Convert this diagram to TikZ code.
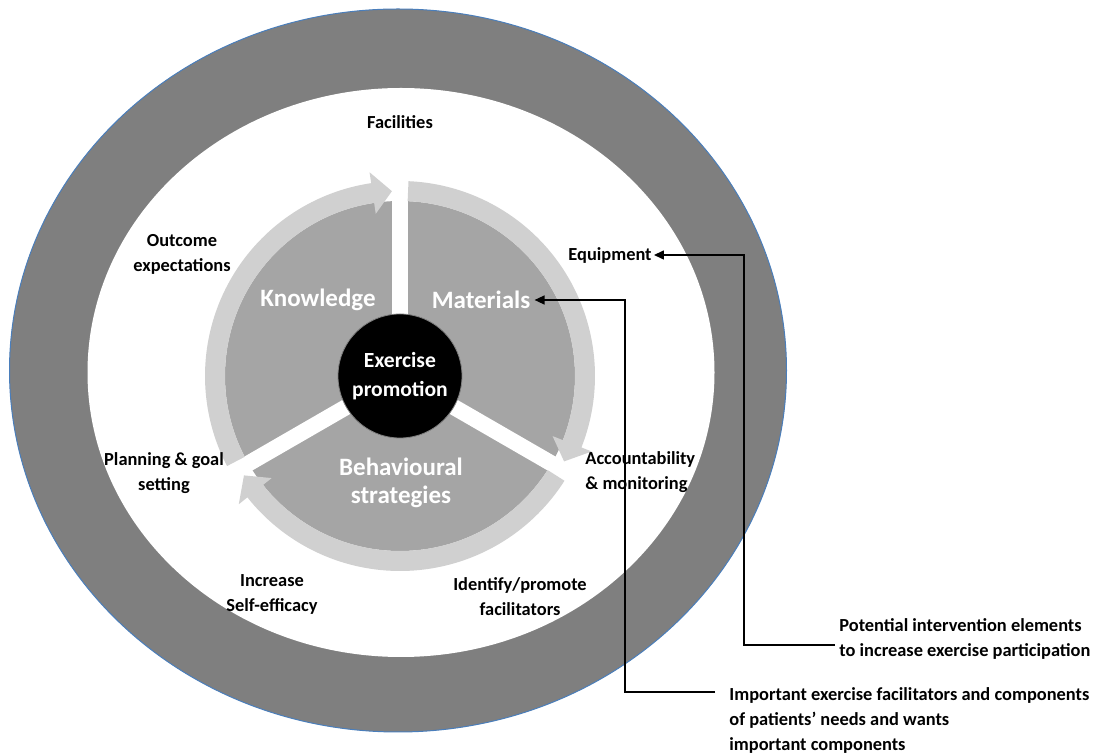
\documentclass[tikz,border=0pt]{standalone}
\usepackage{fontspec}
\setmainfont{Carlito}
\usepackage{xcolor}
\usepackage{tikz}
\usetikzlibrary{arrows.meta}

\definecolor{bandgray}{HTML}{7F7F7F}
\definecolor{bandblue}{HTML}{4A7EBB}
\definecolor{piegray}{HTML}{A5A5A5}
\definecolor{cyclegray}{HTML}{D0D0D0}

\begin{document}
\begin{tikzpicture}[x=0.5pt,y=0.5pt,
    conn/.style={draw=black,line width=0.75pt,-{Triangle[length=5pt,width=4.5pt]}}]
        \useasboundingbox (0,0) rectangle (1099,755);
        \fill[bandgray,draw=bandblue,line width=0.5pt] (398,384.5) ellipse [x radius=388.5, y radius=361.5];
        \fill[white] (401,382.5) ellipse [x radius=313.5, y radius=284.5];
        \begin{scope}[shift={(400,379)}]
          \fill[piegray] (0,0) circle [radius=175];
          \foreach \a in {90,-30,210}
            \draw[white,line width=8pt] (0,0) -- (\a:180);
          \foreach \t/\p in {207.5/92.5, 87.5/-27.5, -32.5/-147.5}
            \fill[cyclegray] (\t:195) arc[start angle=\t, end angle={\p+6}, radius=195]
              -- ({\p+6}:206) -- (\p:185) -- ({\p+6}:164) -- ({\p+6}:175)
              arc[start angle={\p+6}, end angle=\t, radius=175] -- cycle;
          \node[circle,fill=black,draw=gray,minimum size=62pt,inner sep=0pt,
            text=white,align=center,font=\bfseries\fontsize{10.8}{14.5}\selectfont] (hub) at (0,0) {Exercise\\promotion};
        \end{scope}
        \begin{scope}[every node/.style={text=white,align=center,inner sep=2pt,
            font=\bfseries\fontsize{12.5}{14}\selectfont}]
          \node (know) at (318,455) {Knowledge};
          \node (mat) at (481,455) {Materials};
          \node (beh) at (401,272) {Behavioural\\strategies};
        \end{scope}
        \begin{scope}[every node/.style={align=center,inner sep=1pt,
            font=\bfseries\fontsize{9.2}{12.5}\selectfont}]
          \node (fac) at (400,633) {Facilities};
          \node (outc) at (182,500.5) {Outcome\\expectations};
          \node (equip) at (610,500) {Equipment};
          \node (plan) at (164,282) {Planning \& goal\\setting};
          \node[anchor=west,align=left] (acc) at (583,283) {Accountability\\\& monitoring};
          \node (incr) at (272,161) {Increase\\Self-efficacy};
          \node (iden) at (520,158) {Identify/promote\\facilitators};
          \node[anchor=west,align=left,inner sep=0pt] (pot) at (839,116) {Potential intervention elements\\to increase exercise participation};
          \node[anchor=west,align=left,inner sep=0pt] (imp) at (729,35) {Important exercise facilitators and components\\of patients’ needs and wants\\important components};
        \end{scope}
        \coordinate (eqbend) at (744,300);
        \coordinate (matbend) at (625,200);
        \draw[conn] ([xshift=-2pt,yshift=-3pt]pot.west) -| (eqbend) |- (equip.east);
        \draw[conn] ([xshift=-7pt,yshift=14pt]imp.west) -| (matbend) |- (mat.east);
      \end{tikzpicture}
\end{document}
